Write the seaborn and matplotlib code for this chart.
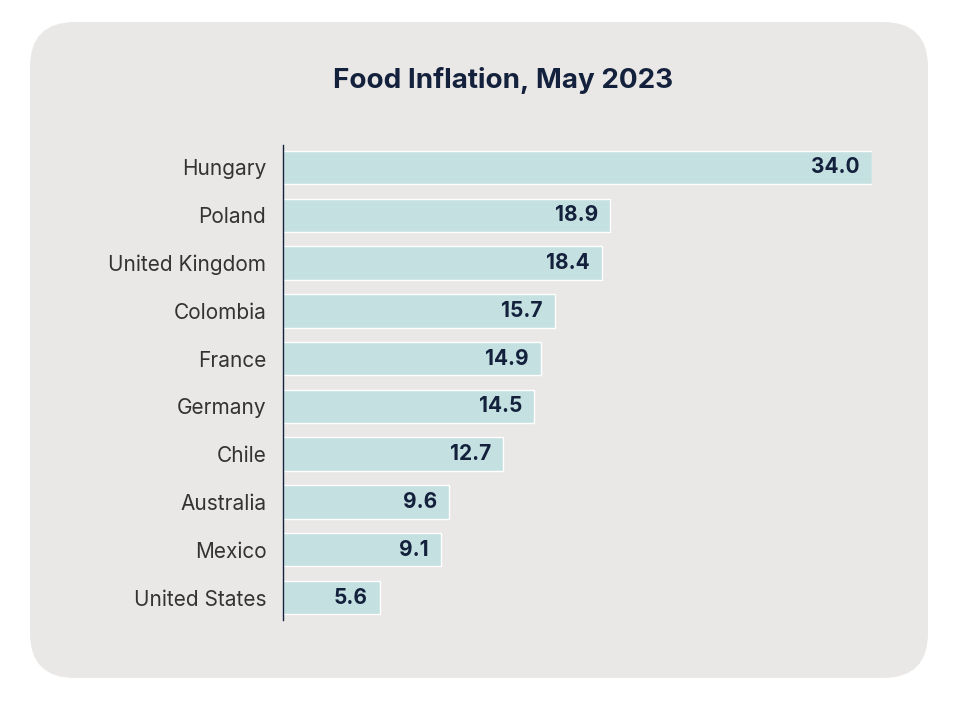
import matplotlib.pyplot as plt
import matplotlib.patches as mpatches
import pandas as pd
import seaborn as sns

countries = ["Hungary", "Poland", "United Kingdom", "Colombia", "France",
             "Germany", "Chile", "Australia", "Mexico", "United States"]
values = [34.0, 18.9, 18.4, 15.7, 14.9, 14.5, 12.7, 9.6, 9.1, 5.6]

df = pd.DataFrame({"country": countries, "value": values})

sns.set_style("white")
plt.rcParams["font.family"] = ["Inter", "DejaVu Sans"]

fig = plt.figure(figsize=(9.73, 7.05), dpi=100)
bg = mpatches.FancyBboxPatch((0.30, 0.27), 8.98, 6.56,
                             boxstyle="round,pad=0,rounding_size=0.45",
                             transform=fig.dpi_scale_trans,
                             facecolor="#EAE8E6", edgecolor="none", zorder=-10)
fig.patches.append(bg)

ax = fig.add_axes([283 / 973, 1 - 620 / 705, (872 - 283) / 973, 475 / 705])
ax.set_zorder(5)
ax.set_facecolor("none")
sns.barplot(data=df, x="value", y="country", color="#C5E0E0",
            width=0.7, saturation=1, ax=ax)
ax.set_xlim(0, 34.0)
ax.set_ylim(9.47, -0.47)

for i, v in enumerate(values):
    ax.text(v - 0.7, i, f"{v:.1f}", ha="right", va="center",
            fontsize=15, fontweight="bold", color="#14213D")

ax.set_xlabel("")
ax.set_ylabel("")
ax.set_xticks([])
ax.tick_params(axis="y", length=0, pad=12, labelsize=15, labelcolor="#333333")
for s in ["top", "right", "bottom"]:
    ax.spines[s].set_visible(False)
ax.spines["left"].set_color("#14213D")
ax.spines["left"].set_linewidth(1)

fig.text(503 / 973, 1 - 80 / 705, "Food Inflation, May 2023", ha="center",
         va="center", fontsize=20, fontweight="bold", color="#14213D")

fig.savefig("out.png", dpi=100)
